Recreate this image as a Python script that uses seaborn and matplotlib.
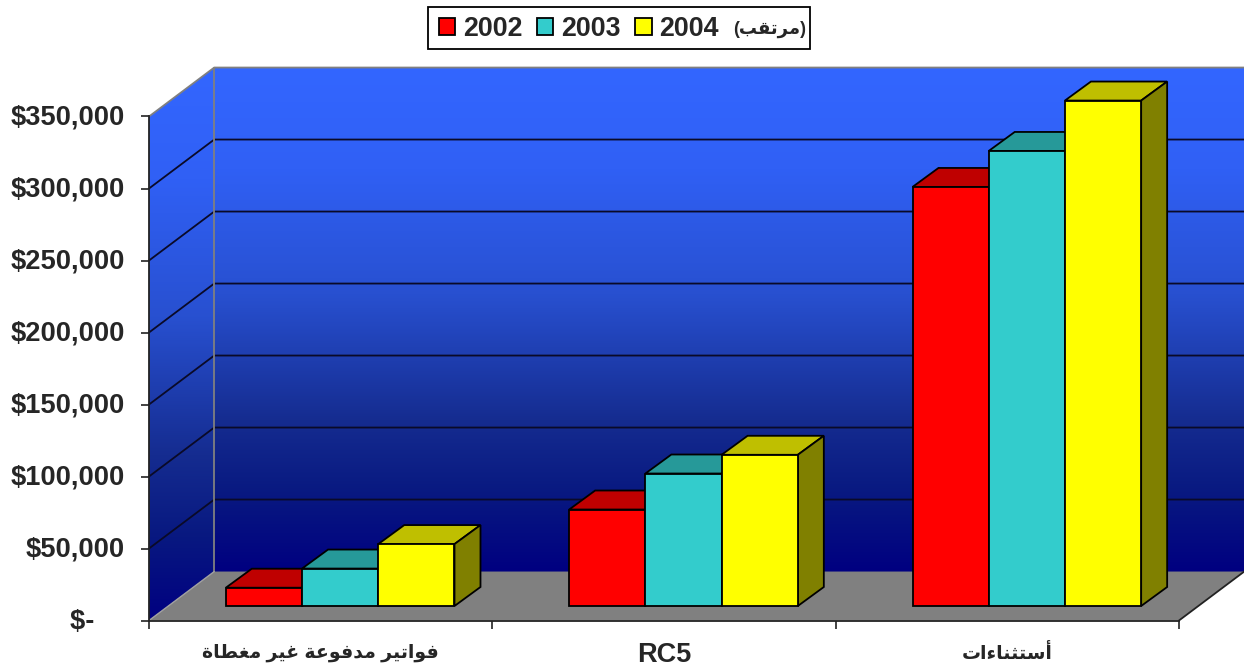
"""3D style budget bar chart, drawn with seaborn plus extruded faces."""
import unicodedata

import matplotlib
matplotlib.use("Agg")
import matplotlib.pyplot as plt
from matplotlib.colors import LinearSegmentedColormap, to_rgb
from matplotlib.patches import Polygon, Rectangle
from matplotlib.transforms import ScaledTranslation
import numpy as np
import pandas as pd
import seaborn as sns

categories = ["فواتير مدفوعة غير مغطاة", "RC5", "أستثناءات"]
years = ["2002", "2003", "2004"]
future_note = "مرتقب"
values_2002 = [12700, 67000, 291000]
values_2003 = [26000, 92000, 316000]
values_2004 = [43000, 105000, 351000]
y_ticks = [0, 50000, 100000, 150000, 200000, 250000, 300000, 350000]
y_tick_labels = ["$-\u00a0\u00a0\u00a0\u00a0", "$50,000", "$100,000", "$150,000", "$200,000",
                 "$250,000", "$300,000", "$350,000"]
bar_colors = ["#FF0000", "#33CCCC", "#FFFF00"]

W, H = 1244, 670
WALL_DX, WALL_DY = 0.19, 34000
BAR_DX, BAR_DY = 0.0757, 13200
NON_JOINING = set("اأإآدذرزوؤةء")


def is_arabic(ch):
    return "ARABIC" in unicodedata.name(ch, "")


def shape_arabic(text):
    """matplotlib has no shaping: pick presentation forms and reverse the text"""
    if not any(is_arabic(ch) for ch in text):
        return text
    out = []
    for i, ch in enumerate(text):
        if not is_arabic(ch):
            out.append(ch)
            continue
        prev = text[i - 1] if i > 0 else " "
        nxt = text[i + 1] if i < len(text) - 1 else " "
        to_prev = is_arabic(prev) and prev not in NON_JOINING and ch != "ء"
        to_next = is_arabic(nxt) and ch not in NON_JOINING and nxt != "ء"
        if to_prev and to_next:
            form = "MEDIAL"
        elif to_prev:
            form = "FINAL"
        elif to_next:
            form = "INITIAL"
        else:
            form = "ISOLATED"
        out.append(unicodedata.lookup(f"{unicodedata.name(ch)} {form} FORM"))
    return "".join(reversed(out))


def axes_rect(left, top, right, bottom):
    return [left / W, 1 - bottom / H, (right - left) / W, (bottom - top) / H]


sns.set_theme(style="white")
plt.rcParams["font.family"] = ["Liberation Sans", "DejaVu Sans"]
plt.rcParams["font.weight"] = "bold"

fig = plt.figure(figsize=(W / 100, H / 100), dpi=100, facecolor="white")

# front plane: carries the real axes, walls and floor hang off it
ax = fig.add_axes(axes_rect(149, 116.5, 1179, 620.5))
ax.patch.set_visible(False)
x0, x1 = -0.5, 2.5
y0, y1 = 0, 350000

# the wall stays light for longer than a straight two colour blend
wall_cmap = LinearSegmentedColormap.from_list("wall", [
    (0.0, "#3366FF"), (0.2, "#3060F5"), (0.45, "#2850D0"),
    (0.7, "#152C90"), (0.85, "#081880"), (1.0, "#000080"),
])
gradient = np.linspace(0, 1, 256).reshape(-1, 1)
back_wall = [(x0 + WALL_DX, y0 + WALL_DY), (x1 + WALL_DX, y0 + WALL_DY),
             (x1 + WALL_DX, y1 + WALL_DY), (x0 + WALL_DX, y1 + WALL_DY)]
side_wall = [(x0, y0), (x0 + WALL_DX, y0 + WALL_DY),
             (x0 + WALL_DX, y1 + WALL_DY), (x0, y1)]
for pts in (back_wall, side_wall):
    im = ax.imshow(gradient, cmap=wall_cmap, aspect="auto", zorder=0,
                   extent=[x0, x1 + WALL_DX, y0 if pts is side_wall else y0 + WALL_DY, y1 + WALL_DY])
    im.set_clip_path(Polygon(pts, transform=ax.transData))
    im.set_clip_box(fig.bbox)

floor = Polygon([(x0, y0), (x0 + WALL_DX, y0 + WALL_DY), (x1 + WALL_DX, y0 + WALL_DY), (x1, y0)],
                facecolor="#808080", edgecolor="none", zorder=1, clip_on=False)
ax.add_patch(floor)

for tick in y_ticks[1:-1]:
    ax.plot([x0, x0 + WALL_DX, x1 + WALL_DX], [tick, tick + WALL_DY, tick + WALL_DY],
            color="#0a0a28", lw=1.3, zorder=2, clip_on=False)
edge_x = [x0, x0 + WALL_DX, x1 + WALL_DX]
ax.plot(edge_x, [y1, y1 + WALL_DY, y1 + WALL_DY], color="#808080", lw=1.3, zorder=2, clip_on=False)
ax.plot([x0 + WALL_DX, x0 + WALL_DX], [y0 + WALL_DY, y1 + WALL_DY], color="#808080", lw=1.3,
        zorder=2, clip_on=False)
ax.plot([x0, x0 + WALL_DX], [y0, y0 + WALL_DY], color="#a0a0a0", lw=1, zorder=2, clip_on=False)
ax.plot([x1, x1 + WALL_DX], [y0, y0 + WALL_DY], color="#222222", lw=1.3, zorder=2, clip_on=False)

ax.set_xlim(x0, x1)
ax.set_ylim(y0, y1)
ax.set_yticks(y_ticks, y_tick_labels)
ax.set_xticks([-0.5, 0.5, 1.5, 2.5], ["", "", "", ""])
ax.set_xticks([0, 1, 2], [shape_arabic(c) for c in categories], minor=True)
ax.tick_params(axis="y", length=5.8, width=1.2, color="#222222", labelsize=19.6, pad=11.5, left=True)
ax.tick_params(axis="x", which="major", length=5.8, width=1.2, color="#222222", bottom=True)
ax.tick_params(axis="x", which="minor", length=0, labelsize=13.6, pad=17)
raise_2px = ScaledTranslation(0, 2 / 100, fig.dpi_scale_trans)
for label in ax.get_yticklabels():
    label.set_transform(label.get_transform() + raise_2px)
for label in ax.get_xticklabels(minor=True):
    if label.get_text() == "RC5":
        label.set_fontsize(19.5)
        label.set_transform(label.get_transform() + raise_2px)
for spine in ("top", "right"):
    ax.spines[spine].set_visible(False)
for spine in ("left", "bottom"):
    ax.spines[spine].set_color("#222222")
    ax.spines[spine].set_linewidth(1.3)
    ax.spines[spine].set_zorder(3)

# bars sit on the floor, one step back from the front plane
bar_ax = fig.add_axes(axes_rect(168.5, 102, 1198.5, 606))
bar_ax.patch.set_visible(False)
df = pd.DataFrame({
    "category": categories * 3,
    "year": [y for y in years for _ in categories],
    "value": values_2002 + values_2003 + values_2004,
})
sns.barplot(data=df, x="category", y="value", hue="year", order=categories, hue_order=years,
            palette=bar_colors, saturation=1, width=0.666, gap=0, edgecolor="black",
            linewidth=1.3, ax=bar_ax, zorder=5)

for container in bar_ax.containers:
    for bar in container:
        bar.set_clip_on(False)
        left, right = bar.get_x(), bar.get_x() + bar.get_width()
        top = bar.get_height()
        rgb = np.array(to_rgb(bar.get_facecolor()))
        bar_ax.add_patch(Polygon(
            [(left, top), (left + BAR_DX, top + BAR_DY), (right + BAR_DX, top + BAR_DY), (right, top)],
            facecolor=rgb * 0.75, edgecolor="black", lw=1.3, zorder=3, clip_on=False))
        bar_ax.add_patch(Polygon(
            [(right, 0), (right + BAR_DX, BAR_DY), (right + BAR_DX, top + BAR_DY), (right, top)],
            facecolor=rgb * 0.5, edgecolor="black", lw=1.3, zorder=3, clip_on=False))

bar_ax.set_xlim(x0, x1)
bar_ax.set_ylim(y0, y1)
bar_ax.set_axis_off()

# the note after 2004 is set smaller, so the box is drawn here and holds legend and note
handles, _ = bar_ax.get_legend_handles_labels()
bar_ax.get_legend().remove()
fig.add_artist(Rectangle((428 / W, 1 - 49 / H), 382 / W, 42 / H, transform=fig.transFigure,
                         facecolor="white", edgecolor="black", lw=1.3))
fig.legend(handles, years, ncols=3, loc="center left", bbox_to_anchor=(428 / W, 1 - 28.5 / H),
           fontsize=19.3, frameon=False, handlelength=0.6, handleheight=0.6, handletextpad=0.3,
           columnspacing=0.55, borderpad=0.4, borderaxespad=0)
fig.text(770 / W, 1 - 29 / H, f"({shape_arabic(future_note)})", fontsize=13, ha="center", va="center")

fig.savefig("out.png", dpi=100, facecolor="white")
plt.close(fig)
